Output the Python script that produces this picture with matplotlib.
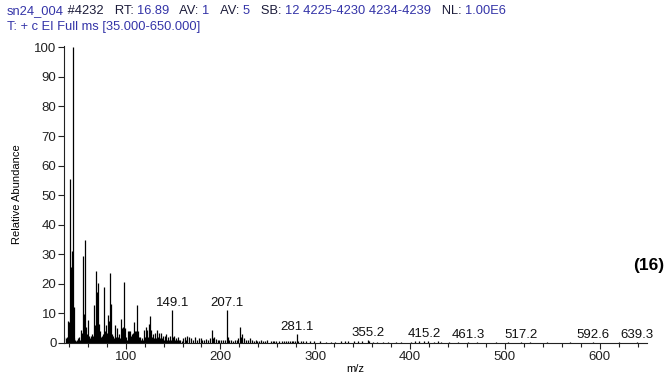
import matplotlib
matplotlib.use("Agg")
import matplotlib.pyplot as plt
from matplotlib.ticker import MultipleLocator

plt.rcParams['font.family'] = ['Liberation Sans', 'DejaVu Sans']

mz = [35, 37, 38, 39, 40, 41, 42, 43, 44, 45, 46, 47, 48, 49, 50, 51, 52, 53, 54, 55,
      56, 57, 58, 59, 60, 61, 62, 63, 64, 65, 66, 67, 68, 69, 70, 71, 72, 73, 74, 75,
      76, 77, 78, 79, 80, 81, 82, 83, 84, 85, 86, 87, 88, 89, 90, 91, 92, 93, 94, 95,
      96, 97, 98, 99, 100, 101, 102, 103, 104, 105, 106, 107, 108, 109, 110, 111, 112, 113, 114, 115,
      116, 117, 118, 119, 120, 121, 122, 123, 124, 125, 126, 127, 128, 129, 130, 131, 132, 133, 134, 135,
      136, 137, 138, 139, 140, 141, 142, 143, 144, 145, 146, 147, 148, 149.1, 150, 151, 152, 153, 154, 155,
      156, 157, 159, 161, 163, 164, 165, 167, 169, 171, 173, 175, 177, 179, 181, 183, 185, 187, 189, 191,
      192, 193, 195, 197, 199, 201, 203, 205, 207.1, 208, 209, 211, 213, 215, 217, 219, 221, 222, 223, 225,
      227, 229, 231, 233, 235, 237, 239, 241, 243, 245, 247, 249, 253, 255, 257, 259, 262, 265, 267, 269,
      271, 273, 275, 277, 279, 281.1, 282, 285, 287, 290, 295, 299, 305, 311, 317, 321, 327, 331, 335, 341,
      345, 349, 355.2, 357, 361, 365, 371, 377, 385, 391, 401, 405, 409, 415.2, 419, 425, 429, 433, 441, 451,
      461.3, 471, 491, 503, 517.2, 527, 545, 569, 592.6, 620, 639.3]
intensity = [2, 1.5, 2, 7.5, 7, 55.5, 25.8, 31, 100, 12, 1.5, 1, 0.8, 1, 1.5, 2, 1, 4.5, 3.5, 29.4,
             9.8, 34.8, 5.5, 3, 7.8, 2.5, 1.5, 2.5, 2, 3, 2.5, 12.8, 6, 24.4, 17.3, 20.4, 6.5, 4, 2, 2.5,
             3, 18.8, 4, 6, 3.5, 9.5, 7.5, 23.8, 7, 13.2, 3, 2.5, 1.5, 6, 2, 5, 2, 3, 1.5, 8,
             5, 5.5, 20.7, 5, 2, 1, 1, 4, 4, 4, 2.5, 3, 3.5, 7, 4, 4, 12.8, 4, 2, 2,
             1, 1.5, 1, 4.5, 2, 5.5, 2, 4.5, 2, 6.5, 9, 4.5, 2, 3, 1.5, 3.5, 1.5, 4.5, 2, 3.5,
             1.5, 3.5, 1.5, 2.5, 1, 2.5, 1, 3, 1, 2, 1, 2.5, 1, 11.3, 2, 2.5, 1, 1.5, 1, 2,
             1, 1, 0.8, 1.5, 2, 1, 2.2, 2, 1.5, 1, 2, 1, 1.5, 1.5, 1, 1, 1.2, 1, 1.5, 4.5,
             1.5, 2, 1.2, 1, 1, 1, 1, 1, 11.3, 2, 1, 1, 0.8, 1, 1, 1.5, 5.5, 2, 3, 1.5,
             1, 1, 1.5, 1, 0.8, 1, 0.8, 0.7, 1, 0.8, 0.7, 1, 0.8, 0.7, 0.7, 0.8, 0.6, 0.7, 0.8, 0.6,
             0.7, 0.6, 0.7, 0.7, 0.8, 3, 0.8, 0.6, 0.5, 0.5, 0.5, 0.5, 0.6, 0.4, 0.4, 0.4, 0.8, 0.6, 0.5, 0.6,
             0.5, 0.5, 1, 0.5, 0.4, 0.4, 0.4, 0.4, 0.3, 0.3, 0.4, 0.5, 0.5, 0.6, 0.5, 0.4, 0.8, 0.3, 0.3, 0.3,
             0.4, 0.3, 0.3, 0.3, 0.3, 0.3, 0.3, 0.3, 0.3, 0.3, 0.3]

label_mz = [149.1, 207.1, 281.1, 355.2, 415.2, 461.3, 517.2, 592.6, 639.3]
label_text = ["149.1", "207.1", "281.1", "355.2", "415.2", "461.3", "517.2", "592.6", "639.3"]

header1 = [("sn24_004", "v"), (" #4232", "k"), ("   RT: ", "k"), ("16.89", "v"),
           ("   AV: ", "k"), ("1", "v"), ("   AV: ", "k"), ("5", "v"),
           ("   SB: ", "k"), ("12 4225-4230 4234-4239", "v"), ("   NL: ", "k"), ("1.00E6", "v")]
header2 = "T: + c EI Full ms [35.000-650.000]"

BLUE = "#3434a8"
DARK = "#1c1c3a"

fig = plt.figure(figsize=(6.67, 3.76), dpi=100)
ax = fig.add_axes([0.096, 0.088, 0.874, 0.79])

ax.vlines(mz, 0, intensity, colors="black", linewidth=0.9)

ax.set_xlim(35, 650)
ax.set_ylim(0, 100.5)
ax.xaxis.set_major_locator(MultipleLocator(100))
ax.xaxis.set_minor_locator(MultipleLocator(20))
ax.yaxis.set_major_locator(MultipleLocator(10))
for s in ["top", "right"]:
    ax.spines[s].set_visible(False)
for s in ["left", "bottom"]:
    ax.spines[s].set_linewidth(0.8)
    ax.spines[s].set_color("#222222")
ax.tick_params(axis="both", which="major", length=4, width=0.8, labelsize=9.5, colors="#222222", pad=1.5)
ax.tick_params(axis="x", which="minor", length=3, width=0.8, colors="#222222")
ax.set_xlabel("m/z", fontsize=8, labelpad=1)
ax.set_ylabel("Relative Abundance", fontsize=8, labelpad=9)

mz_to_int = dict(zip(mz, intensity))
for m, t in zip(label_mz, label_text):
    ax.annotate(t, xy=(m, mz_to_int.get(m, 0.5)), xytext=(0, 0.5), textcoords="offset points",
                ha="center", va="bottom", fontsize=9.5, color="#111111")

fig.text(0.996, 0.295, "(16)", ha="right", va="center", fontsize=12.5, fontweight="bold")

# header line 1, multicolor
fig.canvas.draw()
r = fig.canvas.get_renderer()
x = 7
for txt, c in header1:
    t = fig.text(x / 667, 1 - 11.5 / 376, txt, ha="left", va="center", fontsize=9.3,
                 color=BLUE if c == "v" else DARK)
    bb = t.get_window_extent(renderer=r)
    x = bb.x1
fig.text(7 / 667, 1 - 27 / 376, header2, ha="left", va="center", fontsize=9.3, color=BLUE)

fig.savefig("out.png", dpi=100)
